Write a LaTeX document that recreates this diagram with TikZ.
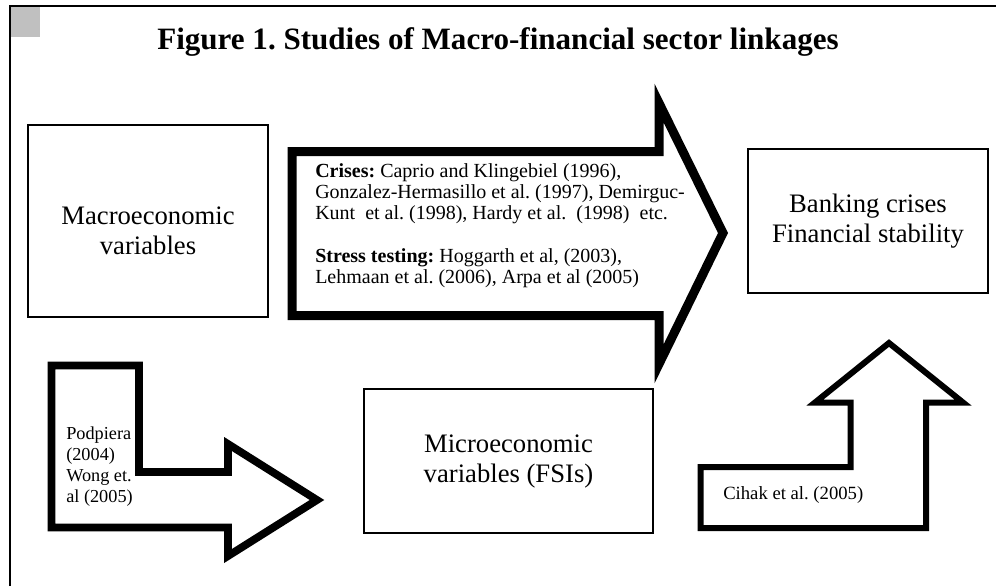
\documentclass[tikz,border=0pt]{standalone}
\usepackage{fontspec}
\setmainfont{Liberation Serif}
\frenchspacing
\definecolor{sqgray}{RGB}{192,192,192}
\begin{document}
\begin{tikzpicture}[x=0.75pt,y=-0.75pt,
  frame/.style={line width=1.5pt},
  box/.style={draw, line width=1.2pt, inner sep=0pt},
  boxtext/.style={font=\fontsize{20}{22.5}\selectfont, align=center, inner sep=0pt},
  smalltext/.style={font=\fontsize{15}{15.75}\selectfont, align=left, inner sep=0pt, anchor=west},
  sidetext/.style={font=\fontsize{14}{15.75}\selectfont, align=left, inner sep=0pt, anchor=west},
  bigarrow/.style={draw, line width=6.75pt, line join=miter},
  larrow/.style={draw, line width=5.8pt, line join=miter},
  uparrow/.style={draw, line width=4.5pt, line join=miter}]
\useasboundingbox (0,0) rectangle (996,586);
% frame
\draw[frame] (10,586) -- (10,6) -- (996,6);
\fill[sqgray] (11,7) rectangle (40,37);
% title
\node[font=\fontsize{23.3}{26}\selectfont\bfseries, inner sep=0pt] (title) at (498,42) {Figure 1. Studies of Macro-financial sector linkages};
% boxes
\node[box, minimum width=180pt, minimum height=144pt] (macro) at (148,221) {};
\node[boxtext] (macrotxt) at (148,231) {Macroeconomic\\variables};
\node[box, minimum width=180pt, minimum height=108pt] (bank) at (868,221) {};
\node[boxtext] (banktxt) at (868,221) {Banking crises\\Financial stability};
\node[box, minimum width=216.75pt, minimum height=108pt] (micro) at (508.5,461) {};
\node[boxtext] (microtxt) at (508.5,462) {Microeconomic\\variables (FSIs)};
% big arrow
\draw[bigarrow] (292,151.5) -- (659,151.5) -- (659,103) -- (723,233) -- (659,364) -- (659,315.5) -- (292,315.5) -- cycle;
\node[smalltext] (crises) at (315,194) {\textbf{Crises:} Caprio and Klingebiel (1996),\\Gonzalez-Hermasillo et al. (1997), Demirguc-\\Kunt~ et al. (1998), Hardy et al.~ (1998)~ etc.};
\node[smalltext] (stress) at (315,268) {\textbf{Stress testing:} Hoggarth et al, (2003),\\Lehmaan et al. (2006), Arpa et al (2005)};
% L arrow
\draw[larrow] (51.5,365.5) -- (139,365.5) -- (139,472) -- (228,472) -- (228,444) -- (317,500) -- (228,556) -- (228,527.5) -- (51.5,527.5) -- cycle;
\node[sidetext, font=\fontsize{13.7}{15.75}\selectfont] (podpiera) at (66,467) {Podpiera\\(2004)\\Wong et.\\al (2005)};
% up arrow
\draw[uparrow] (700.5,528) -- (700.5,467) -- (850.5,467) -- (850.5,402.5) -- (815,402.5) -- (889,343) -- (963,402.5) -- (926,402.5) -- (926,528) -- cycle;
\node[sidetext] (cihak) at (723,495) {Cihak et al. (2005)};
\end{tikzpicture}
\end{document}
